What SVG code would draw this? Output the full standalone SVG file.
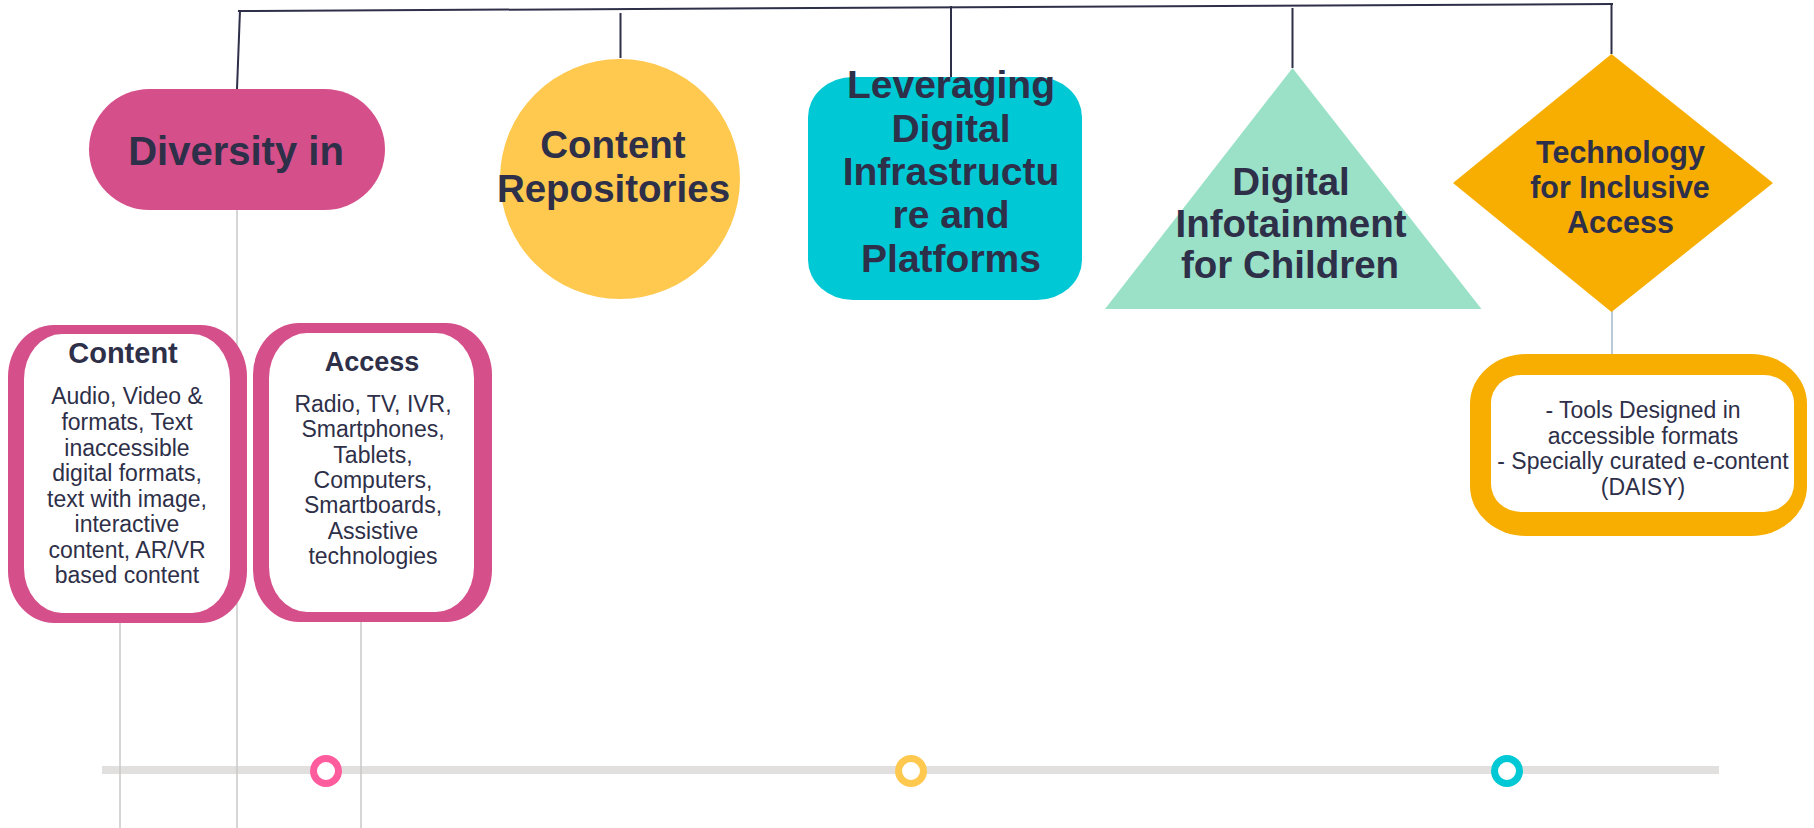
<svg xmlns="http://www.w3.org/2000/svg" width="1814" height="828" viewBox="0 0 1814 828">
<style>
.title{font-family:"Liberation Sans",Arial,sans-serif;font-weight:bold;fill:#2E2F48;text-anchor:middle}
.body{font-family:"Liberation Sans",Arial,sans-serif;font-size:23px;fill:#2E2F48;text-anchor:middle}
.dark{stroke:#2E2F48;stroke-width:2;fill:none}
.gray{stroke:#C8C8C8;stroke-width:1.5;fill:none}
</style>
<rect width="1814" height="828" fill="#FFFFFF"/>
<g id="timeline">
<rect x="102" y="766" width="1617" height="8" fill="#E2E0DE"/>
</g>
<g id="connectors">
<path class="dark" d="M238 11 L1613 4" stroke-width="2.5"/>
<path class="dark" d="M240 10 L237 89"/>
<path class="dark" d="M620.5 13 L620.5 58"/>
<path class="dark" d="M951 6 L951 77"/>
<path class="dark" d="M1292.5 8 L1292.5 68"/>
<path class="dark" d="M1611.5 4 L1611.5 54"/>
<path class="gray" d="M237 210 L237 828"/>
<path class="gray" d="M120 620 L120 828"/>
<path class="gray" d="M361 618 L361 828"/>
<path d="M1612 310 L1612 356" stroke="#B9C9D5" stroke-width="2" fill="none"/>
</g>
<g id="markers">
<circle cx="326" cy="771" r="12.5" fill="#FFFFFF" stroke="#FF5C9D" stroke-width="7"/>
<circle cx="911" cy="771" r="12.5" fill="#FFFFFF" stroke="#FFC94F" stroke-width="7"/>
<circle cx="1507" cy="771" r="12.5" fill="#FFFFFF" stroke="#00C8D4" stroke-width="7"/>
</g>
<g id="diversity">
<rect x="89" y="89" width="296" height="121" rx="60.5" fill="#D54F8A"/>
<text class="title" x="236" y="165" font-size="40">Diversity in</text>
</g>
<g id="content-repositories">
<circle cx="620" cy="179" r="120" fill="#FFC94F"/>
<text class="title" x="613" y="158" font-size="38.5">Content</text>
<text class="title" x="613.5" y="202" font-size="38.5">Repositories</text>
</g>
<g id="leveraging">
<rect x="808" y="77" width="274" height="223" rx="45" ry="40" fill="#00C9D5"/>
<text class="title" x="951" y="98" font-size="39">Leveraging</text>
<text class="title" x="951" y="142" font-size="39">Digital</text>
<text class="title" x="951" y="185" font-size="39">Infrastructu</text>
<text class="title" x="951" y="228" font-size="39">re and</text>
<text class="title" x="951" y="272" font-size="39">Platforms</text>
</g>
<g id="infotainment">
<polygon points="1292.5,68 1481.5,309 1105,309" fill="#9AE1C7"/>
<text class="title" x="1291" y="195" font-size="38.5">Digital</text>
<text class="title" x="1291" y="237" font-size="38.5">Infotainment</text>
<text class="title" x="1290" y="278" font-size="38.5">for Children</text>
</g>
<g id="technology">
<polygon points="1611.5,54 1773,183 1611.5,312 1453,183" fill="#F8AE00"/>
<text class="title" x="1620.5" y="163" font-size="30.5">Technology</text>
<text class="title" x="1620" y="198" font-size="30.5">for Inclusive</text>
<text class="title" x="1620.5" y="233" font-size="30.5">Access</text>
</g>
<g id="content">
<rect x="8" y="325" width="239" height="298" rx="46" ry="52" fill="#D54F8A"/>
<rect x="24" y="334" width="206" height="279" rx="38" ry="45" fill="#FFFFFF"/>
<text class="title" x="123" y="363" font-size="29">Content</text>
<text class="body" x="127" y="404">Audio, Video &amp;</text>
<text class="body" x="127" y="430">formats, Text</text>
<text class="body" x="127" y="456">inaccessible</text>
<text class="body" x="127" y="481">digital formats,</text>
<text class="body" x="127" y="507">text with image,</text>
<text class="body" x="127" y="532">interactive</text>
<text class="body" x="127" y="558">content, AR/VR</text>
<text class="body" x="127" y="583">based content</text>
</g>
<g id="access">
<rect x="253" y="323" width="239" height="299" rx="46" ry="52" fill="#D54F8A"/>
<rect x="269" y="333" width="205" height="279" rx="38" ry="45" fill="#FFFFFF"/>
<text class="title" x="372" y="371" font-size="27">Access</text>
<text class="body" x="373" y="412">Radio, TV, IVR,</text>
<text class="body" x="373" y="437">Smartphones,</text>
<text class="body" x="373" y="463">Tablets,</text>
<text class="body" x="373" y="488">Computers,</text>
<text class="body" x="373" y="513">Smartboards,</text>
<text class="body" x="373" y="539">Assistive</text>
<text class="body" x="373" y="564">technologies</text>
</g>
<g id="inclusive-tools">
<rect x="1470" y="354" width="337" height="182" rx="56" ry="50" fill="#F8AE00"/>
<rect x="1491" y="375" width="303" height="137" rx="30" ry="28" fill="#FFFFFF"/>
<text class="body" x="1643" y="418">- Tools Designed in</text>
<text class="body" x="1643" y="444">accessible formats</text>
<text class="body" x="1643" y="469">- Specially curated e-content</text>
<text class="body" x="1643" y="495">(DAISY)</text>
</g>
</svg>
